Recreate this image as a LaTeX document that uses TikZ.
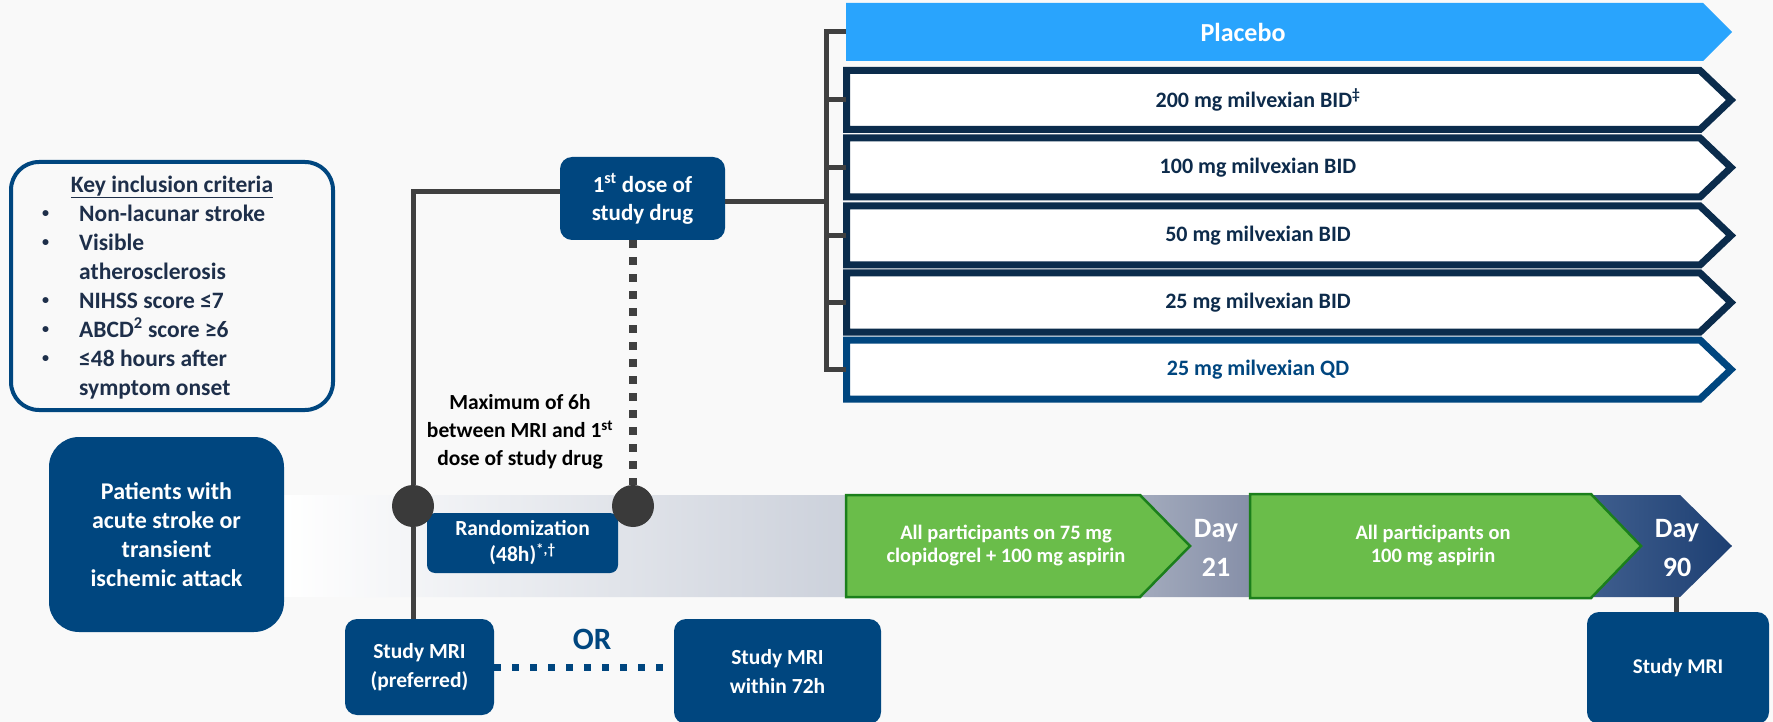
\documentclass[tikz,border=0pt]{standalone}
\usepackage{fontspec}
\setmainfont{Carlito}
\usetikzlibrary{calc}
\definecolor{bg}{HTML}{F9F9F9}
\definecolor{navy}{HTML}{00467F}
\definecolor{armnavy}{HTML}{0B2C4C}
\definecolor{placebo}{HTML}{29A4FD}
\definecolor{linegray}{HTML}{404040}
\definecolor{circ}{HTML}{3A3A3A}
\definecolor{gfill}{HTML}{6ABD4A}
\definecolor{gline}{HTML}{1B7F1B}
\definecolor{crittext}{HTML}{1E2F4A}
\definecolor{armtext}{HTML}{0D2B4B}
\definecolor{bandA}{HTML}{FFFFFF}
\definecolor{bandB}{HTML}{CCD1DB}
\definecolor{bandC}{HTML}{A3ABBD}
\definecolor{bandD}{HTML}{868FA8}
\definecolor{bandE}{HTML}{3F5E8E}
\definecolor{bandF}{HTML}{1D3F72}
\pgfdeclarehorizontalshading{bandshade}{100bp}{color(0bp)=(bandA); color(25bp)=(bandA); color(44.4bp)=(bandB); color(54.56bp)=(bandC); color(58.36bp)=(bandD); color(70.13bp)=(bandE); color(75bp)=(bandF); color(100bp)=(bandF)}
\newcommand\myfs[2]{\fontsize{#1pt}{#2pt}\selectfont\bfseries}
\newcommand\mybul{\makebox[37pt][l]{\raisebox{0.18em}{\scalebox{0.6}{\textbullet}}}}
\tikzset{
  navybox/.style={fill=navy, inner sep=0pt, align=center, text=white},
  conn/.style={draw=linegray, line width=5pt},
  dotconn/.style={draw=linegray, line width=8pt, dash pattern=on 8pt off 9pt},
  ordot/.style={draw=navy, line width=7pt, dash pattern=on 7pt off 11pt},
  armbox/.style={draw=#1, fill=white, line width=7pt, line join=miter},
  armlabel/.style={font=\myfs{22}{25}, text=#1, inner sep=0pt},
  greenarrow/.style={fill=gfill, draw=gline, line width=2.5pt},
  greentext/.style={font=\myfs{20.5}{23}, text=white, align=center, inner sep=0pt},
  daytext/.style={font=\myfs{28}{39}, text=white, align=center, inner sep=0pt},
}
\begin{document}
\begin{tikzpicture}[x=1pt, y=-1pt]
\useasboundingbox (0,0) rectangle (1773,722);
\fill[bg] (0,0) rectangle (1773,722);

% timeline band
\shade[shading=bandshade] (284,495) -- (1680,495) -- (1732,546) -- (1680,597) -- (284,597) -- cycle;
\draw[greenarrow] (846,495) -- (1140,495) -- (1190,546) -- (1140,597) -- (846,597) -- cycle;
\draw[greenarrow] (1250,494) -- (1591,494) -- (1641,546) -- (1591,598) -- (1250,598) -- cycle;
\node[greentext] (g1) at (1006,546) {All participants on 75 mg\\clopidogrel + 100 mg aspirin};
\node[greentext] (g2) at (1433,546) {All participants on\\100 mg aspirin};
\node[daytext] (day21) at (1216,548) {Day\\21};
\node[daytext] (day90) at (1677,548) {Day\\90};

% treatment arms
\fill[placebo] (846,3) -- (1703,3) -- (1732,32) -- (1703,61) -- (846,61) -- cycle;
\node[font=\myfs{26}{30}, text=white, inner sep=0pt] (plac) at (1243,32) {Placebo};
\foreach \yc/\col in {100/armnavy, 167.5/armnavy, 235.5/armnavy, 302.5/armnavy, 369.5/navy}{
  \draw[armbox=\col] (846.5,\yc-29.5) -- (1700,\yc-29.5) -- (1731,\yc) -- (1700,\yc+29.5) -- (846.5,\yc+29.5) -- cycle;
}
\node[armlabel=armtext] (arm1) at (1258,100) {200 mg milvexian BID\textsuperscript{‡}};
\node[armlabel=armtext] (arm2) at (1258,167.5) {100 mg milvexian BID};
\node[armlabel=armtext] (arm3) at (1258,235.5) {50 mg milvexian BID};
\node[armlabel=armtext] (arm4) at (1258,302.5) {25 mg milvexian BID};
\node[armlabel=navy] (arm5) at (1258,369.5) {25 mg milvexian QD};

% criteria box
\node[draw=navy, line width=4pt, fill=bg, rounded corners=28pt, minimum width=322pt, minimum height=248pt, inner sep=0pt] (crit) at (172,286) {};
\node[font=\myfs{23.5}{29}, text=crittext, inner sep=0pt] (crittitle) at (172,187) {\underline{Key inclusion criteria}};
\node[font=\myfs{23.5}{29}, text=crittext, inner sep=0pt, align=left, anchor=north west] (critlist) at (42,205) {%
\mybul Non-lacunar stroke\\
\mybul Visible\\
\hspace*{37pt}atherosclerosis\\
\mybul NIHSS score ≤7\\
\mybul ABCD\textsuperscript{2} score ≥6\\
\mybul ≤48 hours after\\
\hspace*{37pt}symptom onset};

% boxes
\node[navybox, rounded corners=30pt, minimum width=235pt, minimum height=195pt, font=\myfs{24}{29}] (pat) at (166.5,534.5) {Patients with\\acute stroke or\\transient\\ischemic attack};
\node[navybox, rounded corners=12pt, minimum width=165pt, minimum height=83pt, font=\myfs{23}{28}] (dose) at (642.5,198.5) {1\textsuperscript{st} dose of\\study drug};
\node[navybox, rounded corners=8pt, minimum width=191pt, minimum height=60pt, font=\myfs{21.5}{26}] (rand) at (522.5,543) {Randomization\\(48h)\textsuperscript{*,†}};
\node[navybox, rounded corners=12pt, minimum width=149pt, minimum height=96pt, font=\myfs{21.5}{29}] (mri1) at (419.5,667) {Study MRI\\(preferred)};
\node[navybox, rounded corners=12pt, minimum width=207pt, minimum height=105pt, font=\myfs{21.5}{29}] (mri2) at (777.5,671.5) {Study MRI\\within 72h};
\node[navybox, rounded corners=12pt, minimum width=182pt, minimum height=112pt, font=\myfs{21}{24}] (mri3) at (1678,668) {Study MRI};
\node[circle, fill=circ, minimum size=42pt, inner sep=0pt] (c1) at (413,506) {};
\node[circle, fill=circ, minimum size=42pt, inner sep=0pt] (c2) at (633,506) {};
\node[font=\myfs{21.5}{28}, text=black, align=center, inner sep=0pt] (maxtxt) at (520,432) {Maximum of 6h\\between MRI and 1\textsuperscript{st}\\dose of study drug};
\node[font=\myfs{31}{34}, text=navy, inner sep=0pt] (ortxt) at (592,639) {OR};

% connectors
\coordinate (kneeL) at (413,192);
\coordinate (brk) at (826,202);
\coordinate (a0) at (846,32);
\coordinate (a1) at (846,100);
\coordinate (a2) at (846,167.5);
\coordinate (a3) at (846,235.5);
\coordinate (a4) at (846,302.5);
\coordinate (a5) at (846,369.5);
\coordinate (d90) at (1676,597);
\draw[conn] (c1.north) -- (kneeL) -- (kneeL -| dose.west);
\draw[conn] (c1.south) -- (c1.south |- mri1.north);
\draw[conn] (dose.east |- brk) -- (brk);
\draw[conn] (a0) -- (a0 -| brk) -- (a5 -| brk) -- (a5);
\foreach \a in {a1,a2,a3,a4}{ \draw[conn] (\a -| brk) -- (\a); }
\draw[dotconn] (c2 |- dose.south) -- (c2.north);
\draw[ordot] (mri1.east) -- (mri1.east -| mri2.west);
\draw[conn] (d90) -- (d90 |- mri3.north);
\end{tikzpicture}
\end{document}
